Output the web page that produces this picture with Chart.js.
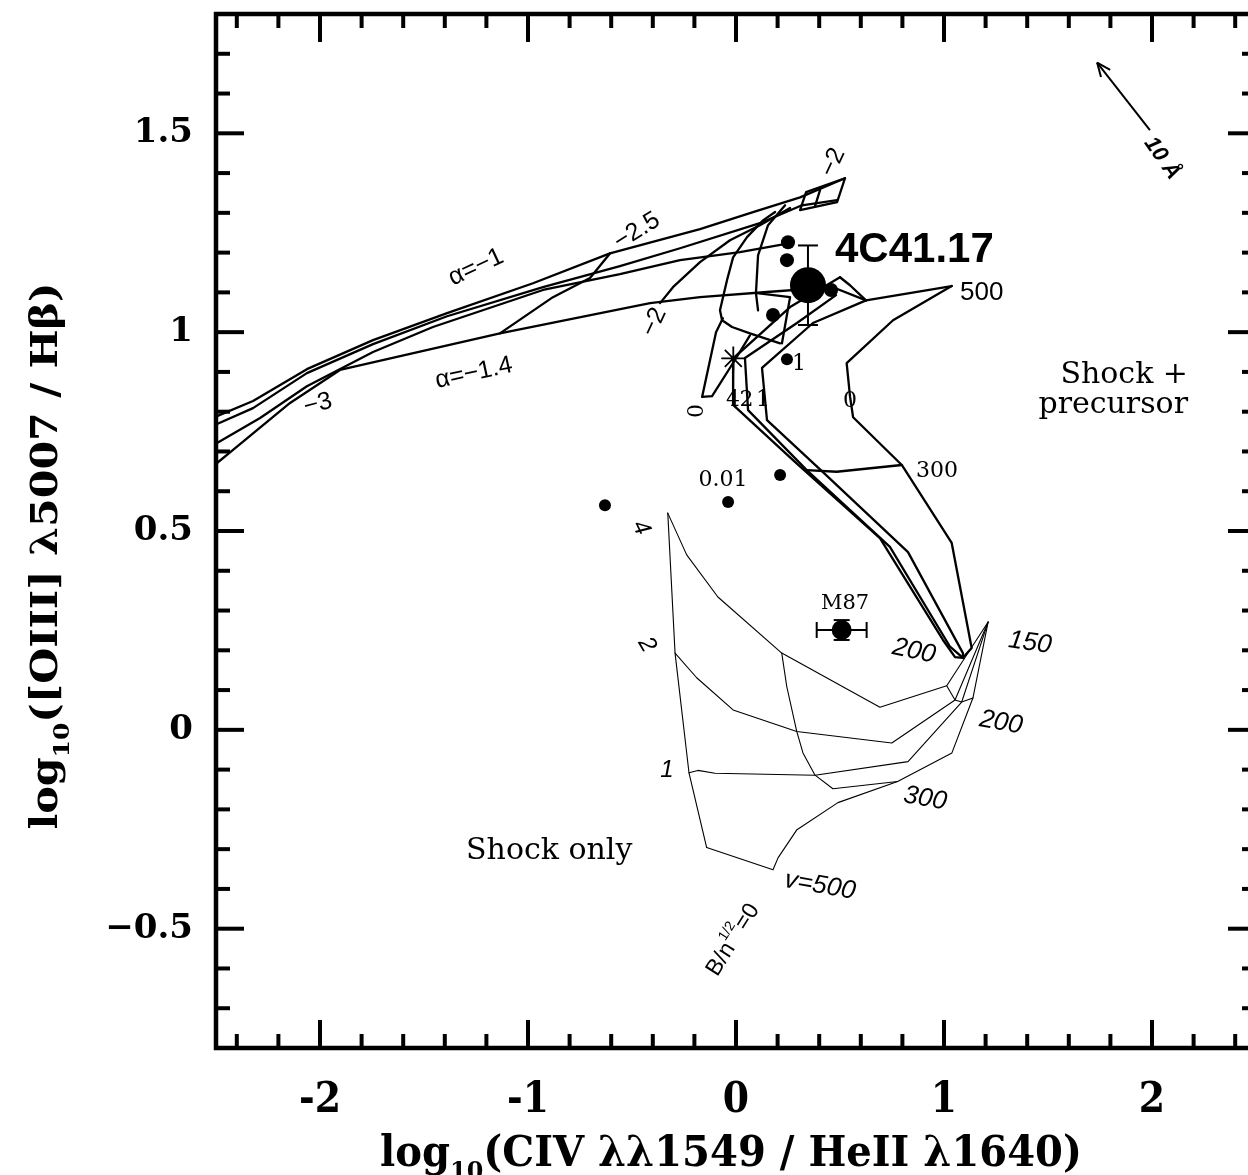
<!DOCTYPE html>
<html>
<head>
<meta charset="utf-8">
<script src="https://cdn.jsdelivr.net/npm/chart.js@4/dist/chart.umd.min.js"></script>
<style>
  html, body { margin: 0; padding: 0; background: #fff; overflow: hidden; width: 1248px; height: 1175px; }
  canvas { display: block; }
</style>
</head>
<body>
<canvas id="c" width="1262" height="1175"></canvas>
<script>
// ---------- axis ticks ----------
const xTickValues = [-2, -1, 0, 1, 2];
const xTickLabels = ['-2', '-1', '0', '1', '2'];
const yTickValues = [-0.5, 0, 0.5, 1, 1.5];
const yTickLabels = ['\u22120.5', '0', '0.5', '1', '1.5'];

// ---------- power-law photoionisation grid (alpha / U tracks) ----------
const plTop    = [[-2.495,0.789],[-2.322,0.827],[-2.063,0.907],[-1.745,0.980],[-1.389,1.048],[-0.976,1.123],[-0.606,1.198],[-0.173,1.259],[0.082,1.302],[0.308,1.339],[0.524,1.387]];
const plSecond = [[-2.495,0.769],[-2.322,0.809],[-2.063,0.897],[-1.745,0.970],[-1.389,1.040],[-0.928,1.113],[-0.558,1.166],[-0.269,1.211],[0.115,1.274],[0.317,1.319],[0.486,1.332]];
const plThird  = [[-2.495,0.721],[-2.288,0.784],[-2.063,0.864],[-1.745,0.950],[-1.457,1.013],[-0.928,1.106],[-0.558,1.146],[-0.269,1.181],[0.019,1.201],[0.260,1.224]];
const plAlpha14 = [[-2.495,0.671],[-2.418,0.704],[-2.144,0.822],[-1.904,0.905],[-1.135,0.997],[-0.413,1.073],[-0.173,1.088],[0.149,1.101],[0.466,1.113],[0.625,1.080]];
const plCrossM25 = [[-1.135,0.997],[-0.880,1.088],[-0.702,1.136],[-0.606,1.198]];
const plCrossM2  = [[-0.365,1.073],[-0.303,1.113],[-0.173,1.176],[-0.029,1.231],[0.115,1.269],[0.260,1.312]];
const plEndQuad  = [[0.337,1.352],[0.524,1.387],[0.486,1.327],[0.308,1.307],[0.337,1.352]];
const plEndInner = [[0.404,1.357],[0.380,1.317]];
const arcOuter = [[0.188,1.302],[0.130,1.281],[0.053,1.239],[-0.014,1.188],[-0.043,1.131],[-0.077,1.055],[-0.067,1.030],[-0.019,1.013],[0.067,0.997],[0.212,0.972]];
const arcInner = [[0.236,1.319],[0.154,1.269],[0.106,1.193],[0.096,1.098],[0.106,1.055]];
const meshA = [[-0.013,0.934],[0.260,1.063],[0.500,1.138]];
const meshB = [[0.500,1.138],[0.548,1.118],[0.625,1.080]];
const meshWedge = [[-0.063,1.035],[-0.096,1.000],[-0.163,0.837],[-0.115,0.839],[-0.005,0.930],[0.067,0.992]];
const meshQuad = [[0.101,1.098],[0.260,1.088],[0.221,0.972]];

// ---------- shock + precursor grid ----------
const spV500 = [[1.037,1.116],[0.625,1.080]];
const spB0 = [[1.037,1.116],[0.755,1.030],[0.532,0.922],[0.548,0.839],[0.563,0.786],[0.797,0.666],[1.037,0.470],[1.133,0.206],[1.091,0.181]];
const spB1 = [[0.625,1.080],[0.370,1.023],[0.125,0.910],[0.149,0.779],[0.418,0.648],[0.827,0.447],[1.091,0.193],[1.091,0.181]];
const spB2 = [[0.481,1.093],[0.293,1.023],[0.043,0.935],[0.058,0.804],[0.340,0.653],[0.740,0.460],[1.029,0.209],[1.091,0.181]];
const spB4 = [[-0.013,0.934],[-0.014,0.817],[0.274,0.678],[0.692,0.482],[0.995,0.226],[1.053,0.183],[1.091,0.181]];
const spV300 = [[0.340,0.653],[0.484,0.649],[0.797,0.666]];

// ---------- shock-only grid ----------
const soV500 = [[-0.328,0.545],[-0.293,0.193],[-0.226,-0.108],[-0.141,-0.296]];
const soB0 = [[-0.141,-0.296],[0.178,-0.352],[0.202,-0.322],[0.293,-0.251],[0.490,-0.183],[0.777,-0.130],[1.038,-0.058],[1.139,0.080],[1.212,0.271]];
const soB4 = [[-0.328,0.545],[-0.237,0.440],[-0.087,0.334],[0.220,0.193],[0.692,0.057],[1.013,0.111],[1.212,0.271]];
const soB2 = [[-0.293,0.193],[-0.189,0.131],[-0.014,0.050],[0.292,-0.004],[0.749,-0.033],[1.053,0.075],[1.212,0.271]];
const soB1 = [[-0.226,-0.108],[-0.183,-0.102],[-0.101,-0.109],[0.380,-0.114],[0.827,-0.080],[1.085,0.070],[1.212,0.271]];
const soV300 = [[0.220,0.193],[0.244,0.109],[0.292,-0.004],[0.322,-0.058],[0.380,-0.114],[0.466,-0.148],[0.777,-0.130]];
const soV200 = [[1.013,0.111],[1.053,0.075],[1.085,0.070],[1.139,0.080]];

// ---------- observed objects ----------
const galaxyX = [-0.630, -0.038, 0.212, 0.245];
const galaxyY = [0.565, 0.573, 0.641, 0.932];
const clusterX = [0.178, 0.250, 0.245, 0.457];
const clusterY = [1.043, 1.226, 1.181, 1.106];
const c4117X = [0.346];
const c4117Y = [1.118];
const c4117ErrY = [0.10];
const m87X = [0.508];
const m87Y = [0.251];
const m87ErrX = [0.12];
const m87ErrY = [0.025];
const starX = [-0.013];
const starY = [0.934];

// extinction vector (10 A_V)
const extFrom = [1.990, 1.508];
const extTo = [1.736, 1.678];

const toXY = arr => arr.map(([x, y]) => ({ x, y }));
const zipXY = (xs, ys) => xs.map((x, i) => ({ x, y: ys[i] }));

const lineSet = (arr, w) => ({
  data: toXY(arr), showLine: true, pointRadius: 0, borderColor: '#000',
  borderWidth: w, fill: false, tension: 0, borderJoinStyle: 'round', borderCapStyle: 'round'
});
const dotSet = (xs, ys, r) => ({
  data: zipXY(xs, ys), showLine: false, pointRadius: r, pointBackgroundColor: '#000',
  pointBorderColor: '#000', pointBorderWidth: 0
});

const THICK = 2.3, THIN = 1.1;
const datasets = [
  dotSet(c4117X, c4117Y, 18),
  dotSet(clusterX, clusterY, 7),
  dotSet(galaxyX, galaxyY, 6),
  dotSet(m87X, m87Y, 10),
  { data: zipXY(starX, starY), showLine: false, pointStyle: 'star', pointRadius: 12,
    pointBorderColor: '#000', pointBorderWidth: 1.8, pointBackgroundColor: '#000' },
  ...[plTop, plSecond, plThird, plAlpha14, plCrossM25, plCrossM2, plEndQuad, plEndInner,
      arcOuter, arcInner, meshA, meshB, meshWedge, meshQuad,
      spV500, spB0, spB1, spB2, spB4, spV300].map(a => lineSet(a, THICK)),
  ...[soV500, soB0, soB4, soB2, soB1, soV300, soV200].map(a => lineSet(a, THIN))
];

// ---------- text on the plot ----------
const SERIF = '"DejaVu Serif", "Liberation Serif", serif';
const SANS = '"Liberation Sans", Arial, sans-serif';
const notes = [
  { t: '4C41.17', x: 0.476, y: 1.206, font: `bold 42px ${SANS}`, align: 'left', base: 'middle' },
  { t: '500', x: 1.077, y: 1.098, font: `26px ${SANS}`, align: 'left', base: 'middle' },
  { t: 'Shock +', x: 2.173, y: 0.872, font: `30px ${SERIF}`, align: 'right' },
  { t: 'precursor', x: 2.173, y: 0.796, font: `30px ${SERIF}`, align: 'right' },
  { t: 'Shock only', x: -1.298, y: -0.324, font: `30px ${SERIF}`, align: 'left' },
  { t: 'M87', x: 0.524, y: 0.317, font: `21px ${SERIF}`, base: 'middle' },
  { t: '0.01', x: -0.063, y: 0.628, font: `22px ${SERIF}`, base: 'middle' },
  { t: '4', x: -0.014, y: 0.828, font: `22px ${SERIF}`, base: 'middle' },
  { t: '2', x: 0.051, y: 0.828, font: `22px ${SERIF}`, base: 'middle' },
  { t: '1', x: 0.130, y: 0.828, font: `22px ${SERIF}`, base: 'middle' },
  { t: '1', x: 0.303, y: 0.920, font: `22px ${SERIF}`, base: 'middle' },
  { t: '0', x: 0.548, y: 0.827, font: `22px ${SERIF}`, base: 'middle' },
  { t: '0', x: -0.188, y: 0.802, font: `22px ${SERIF}`, base: 'middle', rot: -90 },
  { t: '300', x: 0.966, y: 0.650, font: `22px ${SERIF}`, base: 'middle' },
  { t: '\u03b1=\u22121', x: -1.250, y: 1.163, font: `25px ${SANS}`, base: 'middle', rot: -25 },
  { t: '\u03b1=\u22121.4', x: -1.260, y: 0.897, font: `25px ${SANS}`, base: 'middle', rot: -12 },
  { t: '\u22123', x: -2.010, y: 0.819, font: `25px ${SANS}`, base: 'middle', rot: -15 },
  { t: '\u22122.5', x: -0.476, y: 1.254, font: `25px ${SANS}`, base: 'middle', rot: -32 },
  { t: '\u22122', x: -0.394, y: 1.025, font: `25px ${SANS}`, base: 'middle', rot: -65 },
  { t: '\u22122', x: 0.466, y: 1.427, font: `25px ${SANS}`, base: 'middle', rot: -65 },
  { t: '4', x: -0.457, y: 0.508, font: `italic 24px ${SANS}`, base: 'middle', rot: 65 },
  { t: '2', x: -0.428, y: 0.214, font: `italic 24px ${SANS}`, base: 'middle', rot: 60 },
  { t: '1', x: -0.332, y: -0.103, font: `italic 24px ${SANS}`, base: 'middle' },
  { t: 'v=500', x: 0.404, y: -0.392, font: `italic 26px ${SANS}`, base: 'middle', rot: 10 },
  { t: '300', x: 0.909, y: -0.173, font: `italic 26px ${SANS}`, base: 'middle', rot: 10 },
  { t: '200', x: 1.274, y: 0.018, font: `italic 26px ${SANS}`, base: 'middle', rot: 10 },
  { t: '150', x: 1.413, y: 0.219, font: `italic 26px ${SANS}`, base: 'middle', rot: 8 },
  { t: '200', x: 0.856, y: 0.198, font: `italic 26px ${SANS}`, base: 'middle', rot: 12 },
  { t: '10 \u00c5', x: 2.048, y: 1.437, font: `italic bold 22px ${SANS}`, base: 'middle', rot: 55 }
];

// rich text: parts may be subscripted or superscripted
function drawRich(ctx, parts, opt) {
  const fontFor = p => `${opt.style || 'normal'} ${opt.weight || 'normal'} ${(p.sub || p.sup) ? Math.round(opt.size * 0.6) : opt.size}px ${opt.family}`;
  ctx.save();
  const widths = parts.map(p => { ctx.font = fontFor(p); return ctx.measureText(p.s).width; });
  const total = widths.reduce((a, b) => a + b, 0);
  ctx.translate(opt.x, opt.y);
  if (opt.rot) ctx.rotate(opt.rot * Math.PI / 180);
  if (opt.fit) ctx.scale(opt.fit / total, 1);
  let cx = opt.align === 'left' ? 0 : opt.align === 'right' ? -total : -total / 2;
  ctx.textAlign = 'left';
  ctx.textBaseline = opt.base || 'alphabetic';
  ctx.fillStyle = '#000';
  parts.forEach((p, i) => {
    ctx.font = fontFor(p);
    const dy = p.sub ? opt.size * 0.32 : p.sup ? -opt.size * 0.42 : 0;
    ctx.fillText(p.s, cx, dy);
    cx += widths[i];
  });
  ctx.restore();
}

const overlay = {
  id: 'overlay',
  afterDatasetsDraw(chart) {
    const { ctx, scales: { x, y } } = chart;
    ctx.save();
    ctx.strokeStyle = '#000';
    ctx.fillStyle = '#000';
    ctx.lineCap = 'butt';

    const seg = (x1, y1, x2, y2) => { ctx.beginPath(); ctx.moveTo(x1, y1); ctx.lineTo(x2, y2); ctx.stroke(); };

    // vertical error bar of 4C41.17
    ctx.lineWidth = 2;
    c4117X.forEach((vx, i) => {
      const px = x.getPixelForValue(vx);
      const yTop = y.getPixelForValue(c4117Y[i] + c4117ErrY[i]);
      const yBot = y.getPixelForValue(c4117Y[i] - c4117ErrY[i]);
      seg(px, yTop, px, yBot);
      seg(px - 10, yTop, px + 10, yTop);
      seg(px - 10, yBot, px + 10, yBot);
    });
    // M87 error bars
    m87X.forEach((vx, i) => {
      const px = x.getPixelForValue(vx), py = y.getPixelForValue(m87Y[i]);
      const xl = x.getPixelForValue(vx - m87ErrX[i]), xr = x.getPixelForValue(vx + m87ErrX[i]);
      const yt = y.getPixelForValue(m87Y[i] + m87ErrY[i]), yb = y.getPixelForValue(m87Y[i] - m87ErrY[i]);
      seg(xl, py, xr, py);
      seg(xl, py - 8, xl, py + 8);
      seg(xr, py - 8, xr, py + 8);
      seg(px, yt, px, yb);
      seg(px - 8, yt, px + 8, yt);
      seg(px - 8, yb, px + 8, yb);
    });

    // extinction arrow
    const ax1 = x.getPixelForValue(extFrom[0]), ay1 = y.getPixelForValue(extFrom[1]);
    const ax2 = x.getPixelForValue(extTo[0]), ay2 = y.getPixelForValue(extTo[1]);
    ctx.lineWidth = 2;
    seg(ax1, ay1, ax2, ay2);
    const ang = Math.atan2(ay2 - ay1, ax2 - ax1);
    const hl = 15;
    seg(ax2, ay2, ax2 - hl * Math.cos(ang - 0.4), ay2 - hl * Math.sin(ang - 0.4));
    seg(ax2, ay2, ax2 - hl * Math.cos(ang + 0.4), ay2 - hl * Math.sin(ang + 0.4));

    // annotations
    notes.forEach(n => {
      ctx.save();
      ctx.translate(x.getPixelForValue(n.x), y.getPixelForValue(n.y));
      if (n.rot) ctx.rotate(n.rot * Math.PI / 180);
      ctx.font = n.font;
      ctx.textAlign = n.align || 'center';
      ctx.textBaseline = n.base || 'alphabetic';
      ctx.fillText(n.t, 0, 0);
      ctx.restore();
    });

    // B / n^{1/2} = 0 label
    drawRich(ctx, [{ s: 'B/n' }, { s: '1/2', sup: true }, { s: '=0' }], {
      x: x.getPixelForValue(-0.014), y: y.getPixelForValue(-0.528),
      size: 23, family: SANS, rot: -58, base: 'middle'
    });
    ctx.restore();
  },
  afterDraw(chart) {
    const { ctx, chartArea: a, scales: { x, y } } = chart;
    ctx.save();
    ctx.strokeStyle = '#000';
    ctx.lineCap = 'butt';
    const seg = (x1, y1, x2, y2) => { ctx.beginPath(); ctx.moveTo(x1, y1); ctx.lineTo(x2, y2); ctx.stroke(); };
    ctx.lineWidth = 4;
    const MAJ = 28, MIN = 14;
    for (let k = -24; k <= 24; k += 2) {
      const v = k / 10, px = x.getPixelForValue(v);
      const L = (k % 10 === 0) ? MAJ : MIN;
      seg(px, a.bottom, px, a.bottom - L);
      seg(px, a.top, px, a.top + L);
    }
    for (let k = -7; k <= 17; k++) {
      const v = k / 10, py = y.getPixelForValue(v);
      const L = (k % 5 === 0) ? MAJ : MIN;
      seg(a.left, py, a.left + L, py);
      seg(a.right, py, a.right - L, py);
    }
    ctx.lineWidth = 4.5;
    ctx.strokeRect(a.left, a.top, a.right - a.left, a.bottom - a.top);

    // axis titles
    drawRich(ctx, [{ s: 'log' }, { s: '10', sub: true }, { s: '(CIV \u03bb\u03bb1549 / HeII \u03bb1640)' }], {
      x: 731, y: 1166, size: 42, weight: 'bold', family: SERIF, fit: 702
    });
    drawRich(ctx, [{ s: 'log' }, { s: '10', sub: true }, { s: '([OIII] \u03bb5007 / H\u03b2)' }], {
      x: 57, y: 556, size: 38, weight: 'bold', family: SERIF, fit: 547, rot: -90
    });
    ctx.restore();
  }
};

// axis boxes keep no extra edge padding so the plot frame sits exactly where the layout puts it
const noEdgePadding = s => { s.paddingTop = 0; s.paddingBottom = 0; s.paddingLeft = 0; s.paddingRight = 0; };

new Chart(document.getElementById('c'), {
  type: 'scatter',
  data: { datasets },
  options: {
    responsive: false,
    animation: false,
    events: [],
    // the right-hand frame runs just past the visible page edge
    layout: { autoPadding: false, padding: { top: 14, right: 6, left: 0, bottom: 0 } },
    plugins: { legend: { display: false }, tooltip: { enabled: false } },
    scales: {
      x: {
        type: 'linear', min: -2.5, max: 2.5,
        grid: { display: false, drawTicks: false }, border: { display: false },
        afterFit: s => { s.height = 127; noEdgePadding(s); },
        afterBuildTicks: s => { s.ticks = xTickValues.map(v => ({ value: v })); },
        ticks: {
          autoSkip: false, maxRotation: 0, padding: 28, color: '#000',
          font: { family: '"DejaVu Serif Condensed", "DejaVu Serif", serif', size: 42, weight: 'bold' },
          callback: (v, i) => xTickLabels[i]
        }
      },
      y: {
        type: 'linear', min: -0.8, max: 1.8,
        grid: { display: false, drawTicks: false }, border: { display: false },
        afterFit: s => { s.width = 216; noEdgePadding(s); },
        afterBuildTicks: s => { s.ticks = yTickValues.map(v => ({ value: v })); },
        ticks: {
          autoSkip: false, padding: 23, color: '#000',
          font: { family: '"DejaVu Serif", serif', size: 34, weight: 'bold' },
          callback: (v, i) => yTickLabels[i]
        }
      }
    }
  },
  plugins: [overlay]
});
</script>
</body>
</html>
